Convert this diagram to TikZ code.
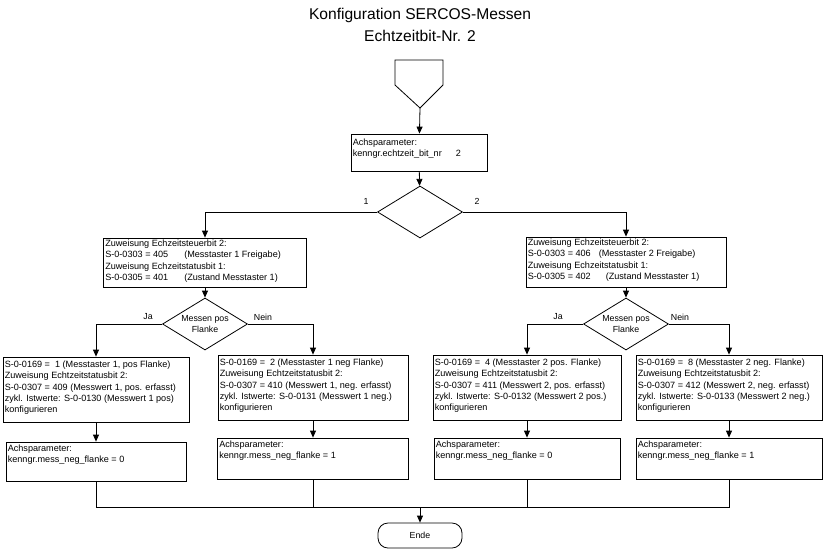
\documentclass[tikz,border=0pt]{standalone}
\usepackage{fontspec}
\setmainfont{Liberation Sans}
\usetikzlibrary{arrows.meta,shapes.geometric,calc}

\tikzset{
    box/.style={draw, rectangle, inner sep=0pt, line width=0.8pt},
    dec/.style={draw, diamond, aspect=1.6, inner sep=0pt, line width=0.8pt, align=center,
        minimum width=85pt, minimum height=52pt, font=\fontsize{8.8}{11}\selectfont},
    txt/.style={anchor=north west, inner sep=1pt, align=left, font=\fontsize{9.1}{11.3}\selectfont},
    lbl/.style={inner sep=1pt, font=\fontsize{8.8}{10}\selectfont},
    flow/.style={-{Triangle[length=7pt,width=6pt]}, line width=0.8pt},
    joinline/.style={line width=0.8pt},
}

\begin{document}
\begin{tikzpicture}[x=1pt, y=-1pt]
    \useasboundingbox (0,0) rectangle (824,558);

    % --- 1. Title ---
    \node[font=\fontsize{15.6}{22}\selectfont, align=center] (title) at (420,25)
        {Konfiguration SERCOS-Messen\\Echtzeitbit-Nr. 2};

    % --- 2. Start and axis parameter ---
    \coordinate (start) at (420,108);
    \draw[joinline] (395,60) -- (443,60) -- (443,85) -- (start) -- (395,85) -- cycle;

    \node[box, minimum width=136pt, minimum height=37pt] (cfg) at (419,152.5) {};
    \node[txt] (cfg-t) at ([shift={(1,4)}]cfg.north west)
        {Achsparameter:\\kenngr.echtzeit\_bit\_nr\hspace{14pt}2};

    \node[dec] (sel) at (420,212) {};
    \node[lbl] (sel-1) at (366,201) {1};
    \node[lbl] (sel-2) at (477,201) {2};

    % --- 3. Echtzeitbits per Messtaster ---
    \node[box, minimum width=203pt, minimum height=49pt] (mt1) at (205,262.5) {};
    \node[txt] (mt1-t) at ([shift={(1,1)}]mt1.north west)
        {Zuweisung Echzeitsteuerbit 2:\\
         S-0-0303 = 405\hspace{16pt}(Messtaster 1 Freigabe)\\
         Zuweisung Echzeitstatusbit 1:\\
         S-0-0305 = 401\hspace{16pt}(Zustand Messtaster 1)};

    \node[box, minimum width=200pt, minimum height=50pt] (mt2) at (626,262) {};
    \node[txt] (mt2-t) at ([shift={(1,1)}]mt2.north west)
        {Zuweisung Echzeitsteuerbit 2:\\
         S-0-0303 = 406\hspace{8pt}(Messtaster 2 Freigabe)\\
         Zuweisung Echzeitstatusbit 1:\\
         S-0-0305 = 402\hspace{15pt}(Zustand Messtaster 1)};

    \node[dec] (q1) at (205,324) {Messen pos\\Flanke};
    \node[lbl] (q1-ja) at (148,317) {Ja};
    \node[lbl] (q1-nein) at (263,317) {Nein};

    \node[dec] (q2) at (626,324) {Messen pos\\Flanke};
    \node[lbl] (q2-ja) at (558,317) {Ja};
    \node[lbl] (q2-nein) at (680,317) {Nein};

    % --- 4. Flanken konfigurieren ---
    \node[box, minimum width=186pt, minimum height=65pt] (p1) at (96,389.5) {};
    \node[txt] (p1-t) at ([shift={(1,3)}]p1.north west)
        {S-0-0169 = \ 1 (Messtaster 1, pos Flanke)\\
         Zuweisung Echtzeitstatusbit 2:\\
         S-0-0307 = 409 (Messwert 1, pos. erfasst)\\
         zykl. Istwerte: S-0-0130 (Messwert 1 pos)\\
         konfigurieren};

    \node[box, minimum width=190pt, minimum height=65pt] (n1) at (313,387.5) {};
    \node[txt] (n1-t) at ([shift={(1,3)}]n1.north west)
        {S-0-0169 = \ 2 (Messtaster 1 neg Flanke)\\
         Zuweisung Echtzeitstatusbit 2:\\
         S-0-0307 = 410 (Messwert 1, neg. erfasst)\\
         zykl. Istwerte: S-0-0131 (Messwert 1 neg.)\\
         konfigurieren};

    \node[box, minimum width=188pt, minimum height=65pt] (p2) at (527,387.5) {};
    \node[txt] (p2-t) at ([shift={(1,3)}]p2.north west)
        {S-0-0169 = \ 4 (Messtaster 2 pos. Flanke)\\
         Zuweisung Echtzeitstatusbit 2:\\
         S-0-0307 = 411 (Messwert 2, pos. erfasst)\\
         zykl. Istwerte: S-0-0132 (Messwert 2 pos.)\\
         konfigurieren};

    \node[box, minimum width=186pt, minimum height=65pt] (n2) at (729,387.5) {};
    \node[txt] (n2-t) at ([shift={(1,3)}]n2.north west)
        {S-0-0169 = \ 8 (Messtaster 2 neg. Flanke)\\
         Zuweisung Echtzeitstatusbit 2:\\
         S-0-0307 = 412 (Messwert 2, neg. erfasst)\\
         zykl. Istwerte: S-0-0133 (Messwert 2 neg.)\\
         konfigurieren};

    % --- 5. Achsparameter mess_neg_flanke ---
    \node[box, minimum width=180pt, minimum height=39pt] (ap1) at (96,461.5) {};
    \node[txt] (ap1-t) at ([shift={(1,2)}]ap1.north west)
        {Achsparameter:\\kenngr.mess\_neg\_flanke = 0};

    \node[box, minimum width=191pt, minimum height=41pt] (an1) at (313,458.5) {};
    \node[txt] (an1-t) at ([shift={(1,2)}]an1.north west)
        {Achsparameter:\\kenngr.mess\_neg\_flanke = 1};

    \node[box, minimum width=186pt, minimum height=41pt] (ap2) at (527,458.5) {};
    \node[txt] (ap2-t) at ([shift={(1,2)}]ap2.north west)
        {Achsparameter:\\kenngr.mess\_neg\_flanke = 0};

    \node[box, minimum width=186pt, minimum height=41pt] (an2) at (729,458.5) {};
    \node[txt] (an2-t) at ([shift={(1,2)}]an2.north west)
        {Achsparameter:\\kenngr.mess\_neg\_flanke = 1};

    % --- 6. Ende ---
    \coordinate (merge) at (420,507);
    \node[box, rounded corners=10pt, minimum width=84pt, minimum height=25pt, lbl] (ende) at (420,535.5) {Ende};

    % --- 7. Connectors ---
    \draw[flow] (start) -- (cfg);
    \draw[flow] (cfg) -- (sel);
    \draw[flow] (sel.west) -| (mt1.north);
    \draw[flow] (sel.east) -| (mt2.north);
    \draw[flow] (mt1) -- (q1);
    \draw[flow] (mt2) -- (q2);
    \draw[flow] (q1.west) -| (p1.north);
    \draw[flow] (q1.east) -| (n1.north);
    \draw[flow] (q2.west) -| (p2.north);
    \draw[flow] (q2.east) -| (n2.north);
    \draw[flow] (p1) -- (ap1);
    \draw[flow] (n1) -- (an1);
    \draw[flow] (p2) -- (ap2);
    \draw[flow] (n2) -- (an2);
    \draw[joinline] (ap1.south) |- (merge) -| (an2.south);
    \draw[joinline] (an1.south) -- (an1.south |- merge);
    \draw[joinline] (ap2.south) -- (ap2.south |- merge);
    \draw[flow] (merge) -- (ende);

\end{tikzpicture}
\end{document}
